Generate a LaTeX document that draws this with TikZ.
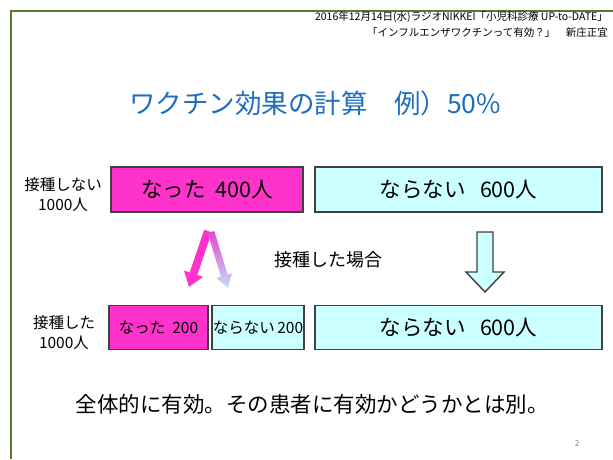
\documentclass[tikz,border=0pt]{standalone}
\usepackage{fontspec}
\setmainfont{Noto Sans CJK JP}
\usetikzlibrary{arrows.meta}
\definecolor{pinkc}{RGB}{255,51,204}
\definecolor{cyanc}{RGB}{204,255,255}
\definecolor{edgec}{RGB}{64,64,64}
\definecolor{greenc}{RGB}{84,122,52}
\definecolor{titlec}{RGB}{31,110,192}
\definecolor{gradtop}{RGB}{226,70,214}
\definecolor{gradbot}{RGB}{200,220,240}
\tikzset{
  box/.style={draw=edgec, line width=1.4pt, inner sep=0pt, outer sep=0pt},
  bigtxt/.style={font=\fontsize{21.5}{25}\selectfont},
  smalltxt/.style={font=\fontsize{15.5}{18}\selectfont},
  lbl/.style={font=\fontsize{15.5}{20}\selectfont, align=center, inner sep=0pt},
}
\begin{document}
\begin{tikzpicture}[x=1pt,y=-1pt]
\useasboundingbox[fill=white] (0,0) rectangle (613,459);
% green frame
\draw[greenc, line width=2pt] (11,459) -- (11,11) -- (613,11);
% header
\node[anchor=east, inner sep=0pt, font=\fontsize{10.5}{12}\selectfont] (h1) at (608,17) {2016年12月14日(水)ラジオNIKKEI「小児科診療 UP-to-DATE」};
\node[anchor=east, inner sep=0pt, font=\fontsize{10.5}{12}\selectfont] (h2) at (608,33) {「インフルエンザワクチンって有効？」\quad 新庄正宜};
% title
\node[text=titlec, inner sep=0pt, font=\fontsize{26.5}{30}\selectfont] (title) at (315,103) {ワクチン効果の計算\quad 例）50\%};
% top row
\node[lbl] (l1) at (63,195) {接種しない\\1000人};
\node[box, fill=pinkc, minimum width=192pt, minimum height=45pt, bigtxt] (a1) at (207,189.5) {なった\ \ 400人};
\node[box, fill=cyanc, minimum width=287pt, minimum height=45pt, bigtxt] (b1) at (458.5,189.5) {ならない\ \ \ 600人};
% middle
\node[inner sep=0pt, font=\fontsize{18}{22}\selectfont] (mid) at (328,260) {接種した場合};
% pink arrow
\draw[pinkc, line width=8pt, -{Triangle[width=19pt,length=14pt]}] (208,231) -- (189,287);
% gradient arrow
\shade[top color=gradtop, bottom color=gradbot]
  (214.3,231.0) -- (227.6,274.6) -- (231.9,273.3) -- (228,288) -- (216.5,277.9) -- (220.9,276.6) -- (207.7,233.0) -- cycle;
% block down arrow
\draw[draw=edgec, fill=cyanc, line width=1.4pt]
  (477,232) -- (493,232) -- (493,272) -- (504,272) -- (485,292) -- (466,272) -- (477,272) -- cycle;
% bottom row
\node[lbl] (l2) at (64,333) {接種した\\1000人};
\node[box, fill=pinkc, minimum width=99pt, minimum height=44pt, smalltxt] (a2) at (158.5,327.5) {なった\ \ 200};
\node[box, fill=cyanc, minimum width=92pt, minimum height=44pt, smalltxt] (c2) at (258,327.5) {ならない\,200};
\node[box, fill=cyanc, minimum width=287pt, minimum height=44pt, bigtxt] (b2) at (458.5,327.5) {ならない\ \ \ 600人};
% conclusion
\node[inner sep=0pt, font=\fontsize{21.5}{26}\selectfont] (concl) at (312,404) {全体的に有効。その患者に有効かどうかとは別。};
% page number
\node[inner sep=0pt, text=gray, font=\fontsize{8}{9}\selectfont] (pg) at (577,444) {2};
\end{tikzpicture}
\end{document}
